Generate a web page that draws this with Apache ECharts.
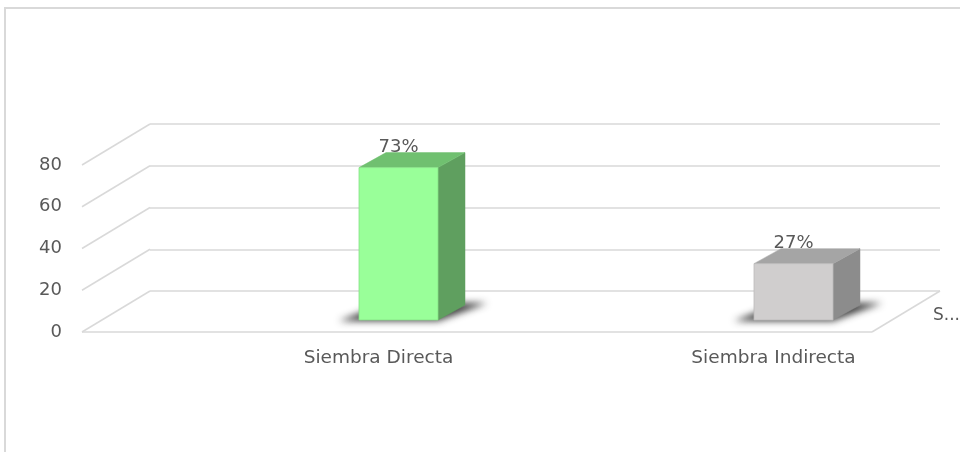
<!DOCTYPE html>
<html>
<head>
<meta charset="utf-8">
<script src="https://cdn.jsdelivr.net/npm/echarts@6/dist/echarts.min.js"></script>
<style>
html,body{margin:0;padding:0;background:#fff;}
#chart{width:960px;height:452px;}
</style>
</head>
<body>
<div id="chart"></div>
<script>
const categories = ['Siembra Directa', 'Siembra Indirecta'];
const values = [73, 27];
const valueLabels = ['73%', '27%'];
const yTicks = [0, 20, 40, 60, 80];
const depthLabel = 'S...';

const FONT = 'DejaVu Sans';
const TXT = '#595959';
const GRID = '#d9d9d9';
const DEPTH = [-68, 41];      // back wall -> front edge of floor
const BARDEPTH = [27, -15];   // bar front -> bar back
const BAR_OFF = [51, 29];     // bar front-face centre offset from back-wall category centre
const FAR = 3000;

const faceColors = [
  {front: '#99ff99', side: '#5f9f5f', top: '#70c070', edge: '#86e086'},
  {front: '#d0cece', side: '#8c8c8c', top: '#a5a5a5', edge: '#bdbbbb'}
];

const chart = echarts.init(document.getElementById('chart'));

function wallItem(params, api) {
  const cs = params.coordSys;
  const v = api.value(1);
  const p = api.coord([0, v]);
  const y = p[1];
  const left = cs.x, right = cs.x + cs.width;
  const ls = {stroke: GRID, lineWidth: 1.5};
  const children = [
    {type: 'line', shape: {x1: left + DEPTH[0], y1: y + DEPTH[1], x2: left, y2: y}, style: ls},
    {type: 'text', style: {text: String(v), x: left + DEPTH[0] - 20, y: y + DEPTH[1],
      align: 'right', verticalAlign: 'middle', fill: TXT, font: '18px "' + FONT + '"'}}
  ];
  if (v === 0) {
    children.push({type: 'line', shape: {x1: left + DEPTH[0], y1: y + DEPTH[1], x2: right + DEPTH[0], y2: y + DEPTH[1]}, style: ls});
    children.push({type: 'line', shape: {x1: right + DEPTH[0], y1: y + DEPTH[1], x2: right, y2: y}, style: ls});
    children.push({type: 'text', style: {text: depthLabel, x: right - 7, y: y + 25,
      align: 'left', verticalAlign: 'middle', fill: TXT, font: '17px "' + FONT + '"'}});
  }
  return {type: 'group', children: children};
}

function catLabelItem(params, api) {
  const p = api.coord([api.value(0), 0]);
  return {type: 'text', style: {text: categories[params.dataIndex], x: p[0] + 31, y: p[1] + DEPTH[1] + 26,
    align: 'center', verticalAlign: 'middle', fill: TXT, font: '18.5px "' + FONT + '"'}};
}

function barItem(params, api) {
  const i = params.dataIndex;
  const c = faceColors[i];
  const top = api.coord([api.value(0), api.value(1)]);
  const base = api.coord([api.value(0), 0]);
  const w = api.size([1, 0])[0] * 0.2;
  const cx = top[0] + BAR_OFF[0];
  const x0 = cx - w / 2, x1 = cx + w / 2;
  const yT = top[1] + BAR_OFF[1], yB = base[1] + BAR_OFF[1];
  const bx = BARDEPTH[0], by = BARDEPTH[1];
  const shadowPts = [[x0 - 20, yB + 1], [x1, yB + 1], [x1 + bx + 22, yB + by - 2], [x0 + bx, yB + by - 2]]
    .map(pt => [pt[0] - FAR, pt[1]]);
  return {type: 'group', children: [
    {type: 'polygon', shape: {points: shadowPts},
      style: {fill: '#000', shadowBlur: 7, shadowOffsetX: FAR, shadowColor: 'rgba(30,30,30,0.85)'}},
    {type: 'polygon', shape: {points: [[x1, yT], [x1 + bx, yT + by], [x1 + bx, yB + by], [x1, yB]]},
      style: {fill: c.side, stroke: c.side, lineWidth: 0.5}},
    {type: 'polygon', shape: {points: [[x0, yT], [x1, yT], [x1 + bx, yT + by], [x0 + bx, yT + by]]},
      style: {fill: c.top, stroke: c.top, lineWidth: 0.5}},
    {type: 'rect', shape: {x: x0, y: yT, width: w, height: yB - yT},
      style: {fill: c.front, stroke: c.edge, lineWidth: 0.8}},
    {type: 'text', style: {text: valueLabels[i], x: cx, y: yT - 20,
      align: 'center', verticalAlign: 'middle', fill: TXT, font: '18px "' + FONT + '"'}}
  ]};
}

chart.setOption({
  animation: false,
  backgroundColor: '#ffffff',
  graphic: [{type: 'rect', shape: {x: 5, y: 8, width: 1000, height: 500},
    style: {fill: 'none', stroke: '#d9d9d9', lineWidth: 2}, z: 100}],
  grid: {left: 150, top: 124, width: 790, height: 167},
  xAxis: {type: 'category', data: categories, axisLine: {show: false}, axisTick: {show: false},
    axisLabel: {show: false}, splitLine: {show: false}},
  yAxis: {type: 'value', min: 0, max: 80, interval: 20, axisLabel: {show: false},
    axisLine: {show: false}, axisTick: {show: false},
    splitLine: {show: true, lineStyle: {color: GRID, width: 1.5}}},
  series: [
    {type: 'custom', renderItem: wallItem, data: yTicks.map(v => [0, v]), z: 1, silent: true},
    {type: 'custom', renderItem: catLabelItem, data: categories.map((c, i) => [i, 0]), z: 2, silent: true},
    {type: 'custom', renderItem: barItem, data: values.map((v, i) => [i, v]), z: 3}
  ]
});
</script>
</body>
</html>
